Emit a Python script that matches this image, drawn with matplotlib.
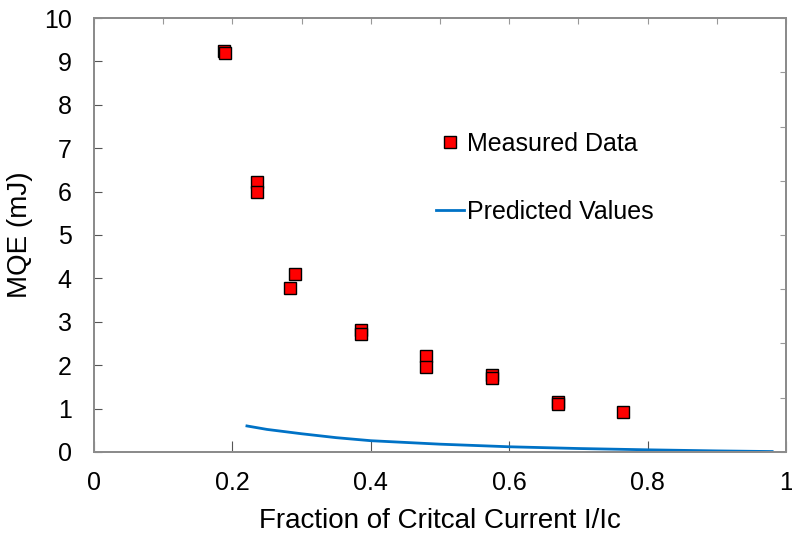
import numpy as np
import matplotlib
matplotlib.use('Agg')
from matplotlib import pyplot as plt

plt.rcParams['font.family'] = ['Liberation Sans', 'DejaVu Sans']

# measured MQE vs I/Ic
meas_x = [0.188, 0.189, 0.236, 0.235, 0.290, 0.283, 0.386, 0.386,
          0.480, 0.480, 0.575, 0.575, 0.671, 0.671, 0.764]
meas_y = [9.23, 9.20, 6.23, 6.00, 4.09, 3.77, 2.80, 2.73,
          2.21, 1.95, 1.77, 1.70, 1.15, 1.10, 0.92]

# predicted curve
pred_x = [0.221, 0.25, 0.30, 0.35, 0.40, 0.45, 0.50, 0.60, 0.70, 0.80, 0.90, 0.98]
pred_y = [0.60, 0.52, 0.42, 0.33, 0.26, 0.22, 0.18, 0.12, 0.08, 0.05, 0.025, 0.01]

xticks = [0, 0.2, 0.4, 0.6, 0.8, 1]
xticklabels = ['0', '0.2', '0.4', '0.6', '0.8', '1']

fig = plt.figure(figsize=(7.92, 5.33), dpi=100)
ax = fig.add_axes([0.1187, 0.152, 0.8737, 0.8142])

ax.plot(meas_x, meas_y, 's', color='red', markeredgecolor='black',
        markersize=8, markeredgewidth=1.0, label='Measured Data')
ax.plot(pred_x, pred_y, '-', color='#0072C6', linewidth=2, label='Predicted Values')

ax.set_xlim(0, 1)
ax.set_ylim(0, 10)
ax.set_xticks(xticks)
ax.set_xticklabels(xticklabels)
ax.set_yticks(range(0, 11))
ax.tick_params(axis='x', direction='in', labelsize=18, length=8, color='#555555', pad=14)
ax.tick_params(axis='y', direction='in', labelsize=18, length=6, color='#555555', pad=16)
for s in ax.spines.values():
    s.set_color('#8c8c8c')
    s.set_linewidth(1.3)

# secondary tick marks on top and right
axt = ax.twiny()
axt.set_xlim(0, 1)
axt.set_xticks(np.arange(0, 1.01, 0.1))
axt.tick_params(axis='x', direction='in', length=4, color='#999999', labeltop=False)
axr = ax.twinx()
axr.set_ylim(0, 10)
axr.set_yticks(np.arange(0, 10.01, 1.25))
axr.tick_params(axis='y', direction='in', length=4, color='#999999', labelright=False)
for a in (axt, axr):
    for s in a.spines.values():
        s.set_color('#8c8c8c')
        s.set_linewidth(1.3)

ax.set_xlabel('Fraction of Critcal Current I/Ic', fontsize=20, labelpad=9)
ax.set_ylabel('MQE (mJ)', fontsize=20, labelpad=8)

ax.legend(loc='upper left', bbox_to_anchor=(0.48, 0.76), borderaxespad=0,
          frameon=False, fontsize=18, labelspacing=1.75, handlelength=1.12,
          handletextpad=0.12)

fig.savefig('out.png', dpi=100)
